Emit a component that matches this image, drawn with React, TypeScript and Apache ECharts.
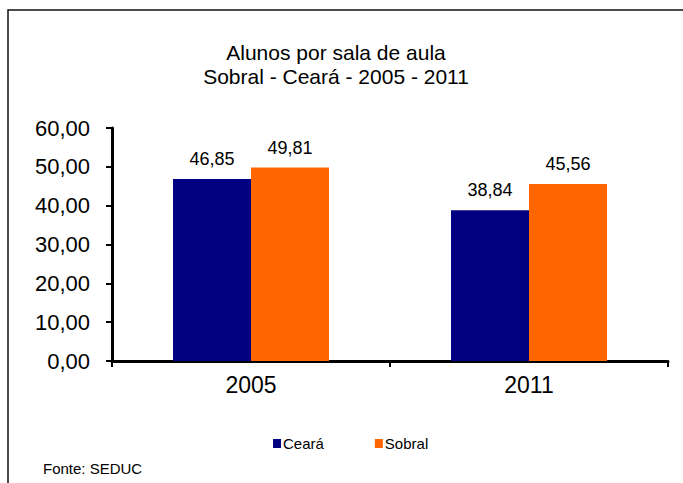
import React, { useEffect, useRef } from "react";
import * as echarts from "echarts";

const categories = ["2005", "2011"];
const cearaValues = [46.85, 38.84];
const sobralValues = [49.81, 45.56];
const seriesNames = ["Ceará", "Sobral"];
const titleLines = ["Alunos por sala de aula", "Sobral - Ceará - 2005 - 2011"];
const sourceText = "Fonte: SEDUC";

const FONT = "'Liberation Sans', Arial, sans-serif";
const fmt = (v: number) => v.toFixed(2).replace(".", ",");

export default function App() {
  const ref = useRef<HTMLDivElement>(null);
  useEffect(() => {
    if (!ref.current) return;
    const chart = echarts.init(ref.current, null, { renderer: "svg" });
    const labelStyle = {
      show: true,
      position: "top" as const,
      distance: 11,
      fontSize: 18,
      color: "#000",
      fontFamily: FONT,
      formatter: (p: any) => fmt(p.value),
    };
    chart.setOption({
      animation: false,
      backgroundColor: "#fff",
      textStyle: { fontFamily: FONT },
      title: {
        text: titleLines.join("\n"),
        left: 336,
        textAlign: "center",
        top: 41,
        padding: 0,
        textStyle: { fontSize: 21, fontWeight: "normal", color: "#000", lineHeight: 23.5, fontFamily: FONT },
      },
      legend: {
        data: seriesNames,
        left: 273,
        top: 436,
        padding: 0,
        icon: "rect",
        itemWidth: 8,
        itemHeight: 9,
        itemGap: 51,
        textStyle: { fontSize: 15, color: "#000", fontFamily: FONT, padding: [0, 0, 0, -3] },
      },
      grid: { left: 112, right: 15, top: 128, bottom: 122, containLabel: false },
      xAxis: {
        type: "category",
        data: categories,
        axisLine: { show: true, lineStyle: { color: "#000", width: 3 } },
        axisTick: { show: true, alignWithLabel: false, length: 6, lineStyle: { color: "#000", width: 2 } },
        axisLabel: { fontSize: 23, color: "#000", margin: 12, fontFamily: FONT },
        splitLine: { show: false },
      },
      yAxis: {
        type: "value",
        min: 0,
        max: 60,
        interval: 10,
        axisLine: { show: true, lineStyle: { color: "#000", width: 3 } },
        axisTick: { show: true, length: 6, lineStyle: { color: "#000", width: 2 } },
        axisLabel: { fontSize: 22, color: "#000", margin: 22, fontFamily: FONT, formatter: (v: number) => fmt(v) },
        splitLine: { show: false },
      },
      series: [
        {
          name: seriesNames[0],
          type: "bar",
          data: cearaValues,
          barWidth: 78,
          barGap: "0%",
          itemStyle: { color: "#000080" },
          label: labelStyle,
        },
        {
          name: seriesNames[1],
          type: "bar",
          data: sobralValues,
          barWidth: 78,
          barGap: "0%",
          itemStyle: { color: "#FF6600" },
          label: labelStyle,
        },
      ],
      graphic: [
        {
          type: "rect",
          shape: { x: 8, y: 10, width: 700, height: 500 },
          style: { fill: "none", stroke: "#111", lineWidth: 1.5 },
          silent: true,
        },
        {
          type: "text",
          x: 43,
          y: 461,
          style: { text: sourceText, fontSize: 15, fill: "#000", fontFamily: FONT },
        },
      ],
    });
    return () => chart.dispose();
  }, []);
  return (
    <div
      ref={ref}
      style={{ position: "fixed", left: 0, top: 0, width: 683, height: 483 }}
    />
  );
}
